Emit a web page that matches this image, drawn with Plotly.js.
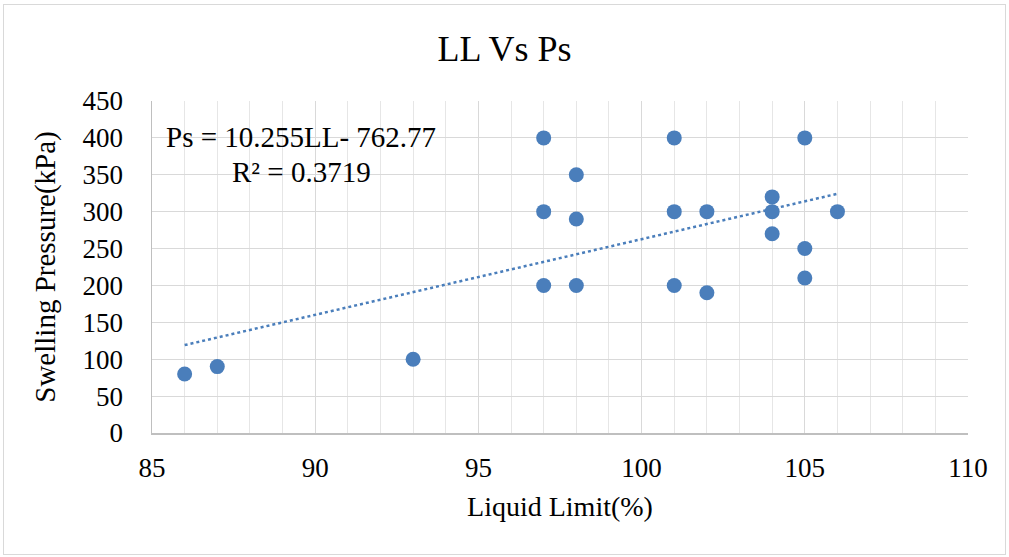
<!DOCTYPE html>
<html>
<head>
<meta charset="utf-8">
<script src="https://cdn.plot.ly/plotly-3.0.1.min.js"></script>
<style>
html,body{margin:0;padding:0;background:#fff;}
#chart{width:1009px;height:557px;position:relative;}
#frame{position:absolute;left:3px;top:4px;width:1001px;height:549px;border:1px solid #d9d9d9;pointer-events:none;}
</style>
</head>
<body>
<div id="chart"></div>
<div id="frame"></div>
<script>
const liquidLimit = [86, 87, 93, 97, 97, 97, 98, 98, 98, 101, 101, 101, 102, 102, 104, 104, 104, 105, 105, 105, 106];
const swellingPressure = [80, 90, 100, 400, 300, 200, 350, 290, 200, 400, 300, 200, 300, 190, 320, 300, 270, 400, 250, 210, 300];
const trendSlope = 10.255;
const trendIntercept = -762.77;
const trendX = [86, 106];
const trendY = trendX.map(x => trendSlope * x + trendIntercept);
const equationText = "Ps = 10.255LL- 762.77";
const r2Text = "R² = 0.3719";

const blue = '#4a7ebb';
const font = 'Liberation Serif, Times New Roman, serif';

const data = [
  {x: trendX, y: trendY, type: 'scatter', mode: 'lines',
   line: {color: blue, width: 2.5, dash: 'dot'}, hoverinfo: 'skip'},
  {x: liquidLimit, y: swellingPressure, type: 'scatter', mode: 'markers',
   marker: {color: blue, size: 15}}
];

const layout = {
  width: 1009, height: 557,
  margin: {l: 152, r: 41, t: 101, b: 124},
  paper_bgcolor: '#fff', plot_bgcolor: '#fff',
  showlegend: false,
  font: {family: font, color: '#000', size: 27},
  title: {text: 'LL Vs Ps', font: {family: font, size: 36, color: '#000'}, x: 0.5, xanchor: 'center', y: 0.914, yanchor: 'middle'},
  xaxis: {
    range: [85, 110], dtick: 5, tick0: 85,
    showgrid: true, gridcolor: '#d9d9d9', gridwidth: 1,
    minor: {dtick: 1, showgrid: true, gridcolor: '#e6e6e6', gridwidth: 1},
    showline: true, linecolor: '#bfbfbf', linewidth: 1.5,
    zeroline: false, ticks: '', ticklabelstandoff: 10,
    tickfont: {family: font, size: 27, color: '#000'},
    title: {text: 'Liquid Limit(%)', font: {family: font, size: 28, color: '#000'}, standoff: 14}
  },
  yaxis: {
    range: [0, 450], dtick: 50,
    showgrid: true, gridcolor: '#d9d9d9', gridwidth: 1,
    showline: true, linecolor: '#bfbfbf', linewidth: 1.5,
    zeroline: false, ticks: '', ticklabelstandoff: 22,
    tickfont: {family: font, size: 27, color: '#000'},
    title: {text: 'Swelling Pressure(kPa)', font: {family: font, size: 29, color: '#000'}, standoff: 18}
  },
  annotations: [
    {xref: 'paper', yref: 'paper', x: 0.1826, y: 0.8916, text: equationText, showarrow: false,
     font: {family: font, size: 29, color: '#000'}, xanchor: 'center', yanchor: 'middle'},
    {xref: 'paper', yref: 'paper', x: 0.1826, y: 0.786, text: r2Text, showarrow: false,
     font: {family: font, size: 29, color: '#000'}, xanchor: 'center', yanchor: 'middle'}
  ]
};

Plotly.newPlot('chart', data, layout, {displayModeBar: false, staticPlot: true});
</script>
</body>
</html>
